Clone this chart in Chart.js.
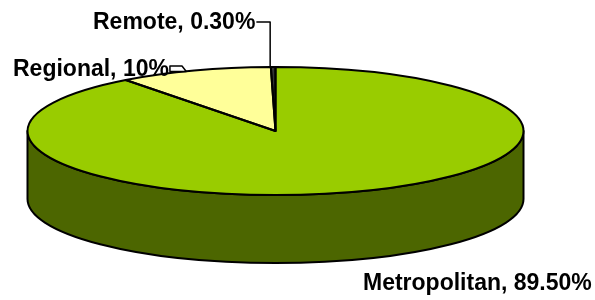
<!DOCTYPE html>
<html><head><meta charset="utf-8">
<script src="https://cdn.jsdelivr.net/npm/chart.js@4/dist/chart.umd.min.js"></script>
<style>html,body{margin:0;padding:0;background:#fff;overflow:hidden}canvas{display:block}</style>
</head><body>
<canvas id="c" width="595" height="300"></canvas>
<script>
// ---- data ----
const categories = ['Metropolitan', 'Regional', 'Remote'];
const shares = [89.5, 10, 0.3];
const valueLabels = ['89.50%', '10%', '0.30%'];

// ---- style / layout ----
const topColors = ['#99CC00', '#FFFF99', '#333333'];
const sideColors = ['#4C6600', '#99994C', '#1a1a1a'];
const PIE = { cx: 275.5, cy: 131, rx: 248, ry: 64, depth: 68 };
const FONT = 'bold 23px "Liberation Sans", Arial, sans-serif';
// label text positions (left, baseline) and leader style
const LABELS = [
  { x: 363, y: 290, leader: null },
  { x: 13, y: 76, leader: 'slant', ly: 66, elbowX: 182 },
  { x: 93, y: 29, leader: 'down', ly: 22 }
];

function ellPt(a, dy) {
  return [PIE.cx + PIE.rx * Math.cos(a), PIE.cy + (dy || 0) + PIE.ry * Math.sin(a)];
}
function frontRanges(s, e) {
  const res = [];
  for (let k = -1; k <= 1; k++) {
    const lo = k * 2 * Math.PI, hi = lo + Math.PI;
    const a = Math.max(s, lo), b = Math.min(e, hi);
    if (b > a) res.push([a, b]);
  }
  return res;
}

const pie3d = {
  id: 'pie3d',
  beforeDatasetsDraw(chart) {
    const ctx = chart.ctx;
    const meta = chart.getDatasetMeta(0);
    ctx.save();
    ctx.lineWidth = 2;
    ctx.strokeStyle = '#000';
    ctx.lineJoin = 'round';
    meta.data.forEach((el, i) => {
      const p = el.getProps(['startAngle', 'endAngle'], true);
      frontRanges(p.startAngle, p.endAngle).forEach(([a, b]) => {
        ctx.beginPath();
        ctx.ellipse(PIE.cx, PIE.cy, PIE.rx, PIE.ry, 0, a, b, false);
        const q = ellPt(b, PIE.depth);
        ctx.lineTo(q[0], q[1]);
        ctx.ellipse(PIE.cx, PIE.cy + PIE.depth, PIE.rx, PIE.ry, 0, b, a, true);
        ctx.closePath();
        ctx.fillStyle = sideColors[i];
        ctx.fill();
        ctx.stroke();
      });
    });
    ctx.restore();
    const el0 = meta.data[0].getProps(['x', 'y', 'outerRadius'], true);
    ctx.save();
    ctx.translate(PIE.cx, PIE.cy);
    ctx.scale(PIE.rx / el0.outerRadius, PIE.ry / el0.outerRadius);
    ctx.translate(-el0.x, -el0.y);
  },
  afterDatasetsDraw(chart) {
    const ctx = chart.ctx;
    ctx.restore();
    const meta = chart.getDatasetMeta(0);
    ctx.save();
    ctx.lineWidth = 2;
    ctx.strokeStyle = '#000';
    ctx.lineJoin = 'round';
    meta.data.forEach((el) => {
      const p = el.getProps(['startAngle', 'endAngle'], true);
      const s = ellPt(p.startAngle);
      ctx.beginPath();
      ctx.moveTo(PIE.cx, PIE.cy);
      ctx.lineTo(s[0], s[1]);
      ctx.ellipse(PIE.cx, PIE.cy, PIE.rx, PIE.ry, 0, p.startAngle, p.endAngle, false);
      ctx.closePath();
      ctx.stroke();
    });
    // labels
    ctx.font = FONT;
    ctx.fillStyle = '#000';
    ctx.textBaseline = 'alphabetic';
    ctx.textAlign = 'left';
    ctx.lineWidth = 1.5;
    meta.data.forEach((el, i) => {
      const L = LABELS[i];
      const text = categories[i] + ', ' + valueLabels[i];
      ctx.fillText(text, L.x, L.y);
      if (!L.leader) return;
      const p = el.getProps(['startAngle', 'endAngle'], true);
      const mid = (p.startAngle + p.endAngle) / 2;
      const anc = ellPt(mid);
      const tx = L.x + ctx.measureText(text).width + 1;
      ctx.beginPath();
      ctx.moveTo(tx, L.ly);
      if (L.leader === 'down') {
        ctx.lineTo(anc[0] - 3, L.ly);
        ctx.lineTo(anc[0] - 3, anc[1]);
        ctx.stroke();
      } else {
        ctx.lineTo(L.elbowX, L.ly);
        ctx.lineTo(anc[0] - 8, anc[1] + 1);
        ctx.lineTo(tx, anc[1] + 1);
        ctx.closePath();
        ctx.fillStyle = '#fff';
        ctx.fill();
        ctx.stroke();
        ctx.fillStyle = '#000';
      }
    });
    ctx.restore();
  }
};

new Chart(document.getElementById('c'), {
  type: 'pie',
  data: {
    labels: categories,
    datasets: [{
      data: shares,
      backgroundColor: topColors,
      borderWidth: 0,
      hoverOffset: 0
    }]
  },
  options: {
    responsive: false,
    animation: false,
    events: [],
    layout: { padding: 0 },
    plugins: { legend: { display: false }, tooltip: { enabled: false } }
  },
  plugins: [pie3d]
});
</script>
</body></html>
